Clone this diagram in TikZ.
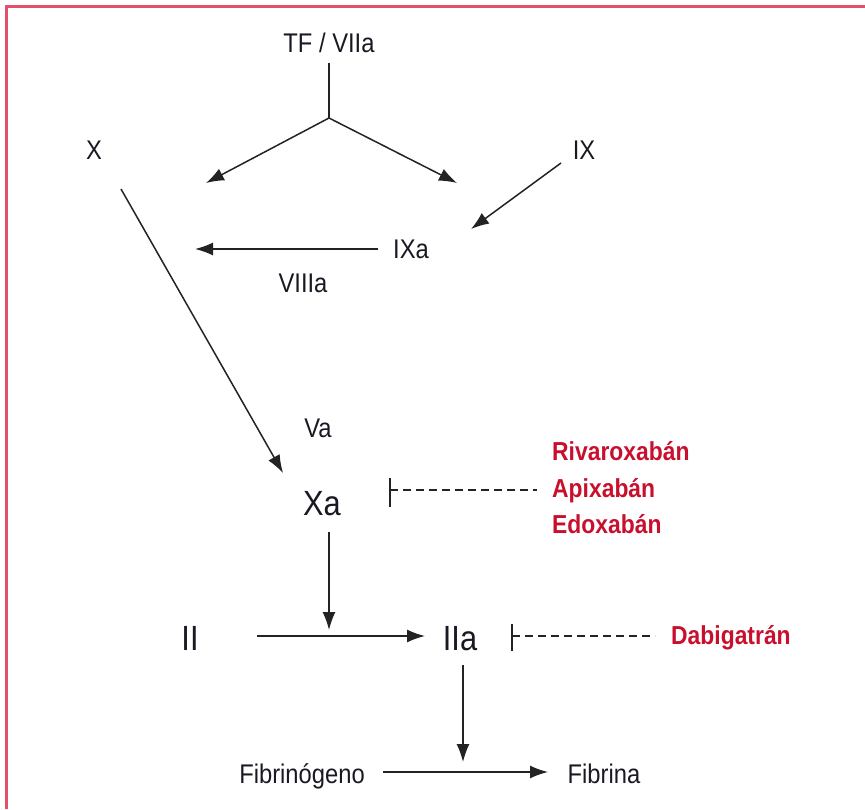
\documentclass[tikz,border=0pt]{standalone}
\usepackage{fontspec}
\setmainfont[FakeStretch=0.88]{Liberation Sans}
\usetikzlibrary{arrows.meta}
\definecolor{framec}{RGB}{226,80,108}
\definecolor{drugc}{RGB}{200,16,46}
\definecolor{inkc}{RGB}{25,25,35}
\definecolor{wirec}{RGB}{35,35,35}
\begin{document}
\begin{tikzpicture}[x=1pt,y=-1pt,
  lbl/.style={inner sep=0pt, text=inkc, anchor=base, font=\fontsize{27}{32}\selectfont},
  big/.style={inner sep=0pt, text=inkc, anchor=base, font=\fontsize{35}{40}\selectfont},
  druglbl/.style={inner sep=0pt, text=drugc, anchor=base west, font=\fontsize{26}{30}\selectfont\bfseries},
  arr/.style={draw=wirec, line width=1.5pt, -{Latex[length=18pt,width=13pt]}},
  ln/.style={draw=wirec, line width=1.5pt},
  inhbar/.style={draw=wirec, line width=1.5pt},
  inhdash/.style={draw=wirec, line width=1.1pt, dash pattern=on 8pt off 5pt}]
\useasboundingbox (0,0) rectangle (865,809);
\draw[framec, line width=3pt] (6,809) -- (6,6) -- (865,6);

% labels
\node[lbl] (tf) at (329,52) {TF / VIIa};
\node[lbl] (x) at (94,159) {X};
\node[lbl] (ix) at (584,159) {IX};
\node[lbl] (ixa) at (411,258) {IXa};
\node[lbl] (viiia) at (303,292) {VIIIa};
\node[lbl] (va) at (318,437) {Va};
\node[big] (xa) at (322,515) {Xa};
\node[big] (ii) at (190,650) {II};
\node[big] (iia) at (460,650) {IIa};
\node[lbl] (fgn) at (302,783) {Fibrinógeno};
\node[lbl] (fib) at (604,783) {Fibrina};
\node[druglbl] (riv) at (552,460) {Rivaroxabán};
\node[druglbl] (api) at (552,497) {Apixabán};
\node[druglbl] (edo) at (552,533) {Edoxabán};
\node[druglbl] (dab) at (671,644) {Dabigatrán};

% coordinates
\coordinate (jtop) at (329,63);
\coordinate (j) at (329,118);
\coordinate (tl) at (206,183);
\coordinate (tr) at (457,183);
\coordinate (ixs) at (561,163);
\coordinate (ixe) at (471,229);
\coordinate (ixas) at (378,249);
\coordinate (ixae) at (195,249);
\coordinate (xs) at (121,189);
\coordinate (xe) at (283,473);
\coordinate (xas) at (329,532);
\coordinate (xae) at (329,630);
\coordinate (iis) at (257,636);
\coordinate (iie) at (425,636);
\coordinate (iias) at (463,665);
\coordinate (iiae) at (463,762);
\coordinate (fs) at (383,772);
\coordinate (fe) at (548,772);
\coordinate (b1t) at (390,478);
\coordinate (b1b) at (390,507);
\coordinate (d1s) at (390,490);
\coordinate (d1e) at (537,490);
\coordinate (b2t) at (512,624);
\coordinate (b2b) at (512,651);
\coordinate (d2s) at (512,636);
\coordinate (d2e) at (655,636);

% connectors
\draw[ln] (jtop) -- (j);
\draw[arr] (j) -- (tl);
\draw[arr] (j) -- (tr);
\draw[arr] (ixs) -- (ixe);
\draw[arr] (ixas) -- (ixae);
\draw[arr] (xs) -- (xe);
\draw[arr] (xas) -- (xae);
\draw[arr] (iis) -- (iie);
\draw[arr] (iias) -- (iiae);
\draw[arr] (fs) -- (fe);
\draw[inhbar] (b1t) -- (b1b);
\draw[inhdash] (d1s) -- (d1e);
\draw[inhbar] (b2t) -- (b2b);
\draw[inhdash] (d2s) -- (d2e);
\end{tikzpicture}
\end{document}
